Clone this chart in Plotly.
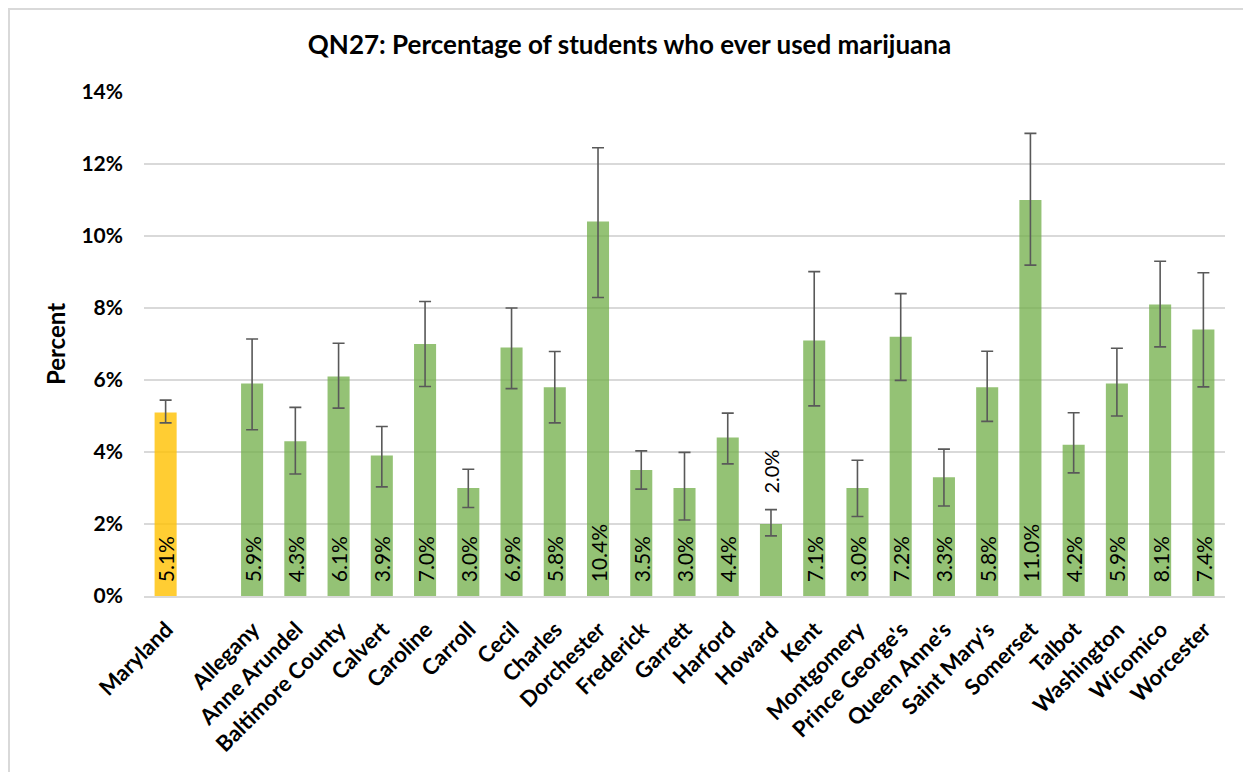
import plotly.graph_objects as go

categories = ["Maryland", " ", "Allegany", "Anne Arundel", "Baltimore County", "Calvert",
              "Caroline", "Carroll", "Cecil", "Charles", "Dorchester", "Frederick",
              "Garrett", "Harford", "Howard", "Kent", "Montgomery", "Prince George's",
              "Queen Anne's", "Saint Mary's", "Somerset", "Talbot", "Washington",
              "Wicomico", "Worcester"]
values = [5.1, None, 5.9, 4.3, 6.1, 3.9, 7.0, 3.0, 6.9, 5.8, 10.4, 3.5, 3.0, 4.4, 2.0,
          7.1, 3.0, 7.2, 3.3, 5.8, 11.0, 4.2, 5.9, 8.1, 7.4]
upper = [5.44, None, 7.14, 5.24, 7.02, 4.71, 8.18, 3.52, 8.00, 6.79, 12.45, 4.03, 3.99,
         5.08, 2.40, 9.01, 3.77, 8.40, 4.08, 6.80, 12.85, 5.09, 6.88, 9.30, 8.98]
lower = [4.81, None, 4.62, 3.39, 5.22, 3.03, 5.82, 2.46, 5.76, 4.81, 8.29, 2.97, 2.11,
         3.67, 1.67, 5.28, 2.21, 5.99, 2.50, 4.85, 9.19, 3.42, 5.00, 6.92, 5.81]
outside_label = ["Howard"]

GOLD = "rgba(255,192,0,0.8)"
GREEN = "rgba(112,173,71,0.75)"
FONT = "Lato"
PAD = "\u00a0\u00a0"

W, H = 1243, 764
ML, MR, MT, MB = 136, 26, 84, 176
PW, PH = W - ML - MR, H - MT - MB

colors = [GOLD if c == "Maryland" else GREEN for c in categories]
err_plus = [None if v is None else round(u - v, 3) for v, u in zip(values, upper)]
err_minus = [None if v is None else round(v - l, 3) for v, l in zip(values, lower)]
texts = ["" if (v is None or c in outside_label) else f"{PAD}{v:.1f}%"
         for c, v in zip(categories, values)]

fig = go.Figure()
fig.add_trace(go.Bar(
    x=categories, y=values,
    marker=dict(color=colors, line=dict(width=0)),
    error_y=dict(type="data", symmetric=False, array=err_plus, arrayminus=err_minus,
                 color="#595959", thickness=1.6, width=6),
    text=texts, textposition="inside", insidetextanchor="start", textangle=-90,
    textfont=dict(family=FONT, size=21, color="black"),
    cliponaxis=False, showlegend=False,
))

for c, v, u in zip(categories, values, upper):
    if c in outside_label:
        fig.add_annotation(x=c, y=u, text=f"{v:.1f}%", showarrow=False, textangle=-90,
                           yanchor="bottom", xanchor="center", yshift=14,
                           font=dict(family=FONT, size=20, color="black"))

fig.update_layout(
    width=W, height=H,
    margin=dict(l=ML, r=MR, t=MT, b=MB),
    paper_bgcolor="white", plot_bgcolor="white",
    bargap=0.49,
    uniformtext=dict(minsize=21, mode="show"),
    title=dict(text="<b>QN27: Percentage of students who ever used marijuana</b>",
               x=0.5, xref="container", xanchor="center",
               y=1 - 37 / H, yanchor="middle",
               font=dict(family=FONT, size=26, color="black")),
    font=dict(family=FONT, color="black"),
    shapes=[dict(type="rect", xref="paper", yref="paper",
                 x0=(1 - ML) / PW, x1=(W + 60 - ML) / PW,
                 y0=(PH + MT - (H + 60)) / PH, y1=(PH + MT - 1) / PH,
                 line=dict(color="#D9D9D9", width=2), fillcolor="rgba(0,0,0,0)",
                 layer="below")],
)
fig.update_yaxes(range=[0, 14], dtick=2, tickprefix="<b>", ticksuffix="%</b>",
                 showgrid=True, gridcolor="#D9D9D9", gridwidth=1.5, zeroline=False,
                 showline=False,
                 tickfont=dict(family=FONT, size=21, color="black"),
                 ticklabelstandoff=20,
                 title=dict(text="<b>Percent</b>", standoff=9,
                            font=dict(family=FONT, size=24, color="black")))
fig.update_xaxes(type="category", showline=True, linecolor="#D9D9D9", linewidth=2,
                 tickangle=-45, ticks="", ticklabelstandoff=10, ticklabelshift=1,
                 tickfont=dict(family=FONT, size=22, color="black"),
                 tickprefix="<b>", ticksuffix="</b>")

fig.write_html("out.html")
